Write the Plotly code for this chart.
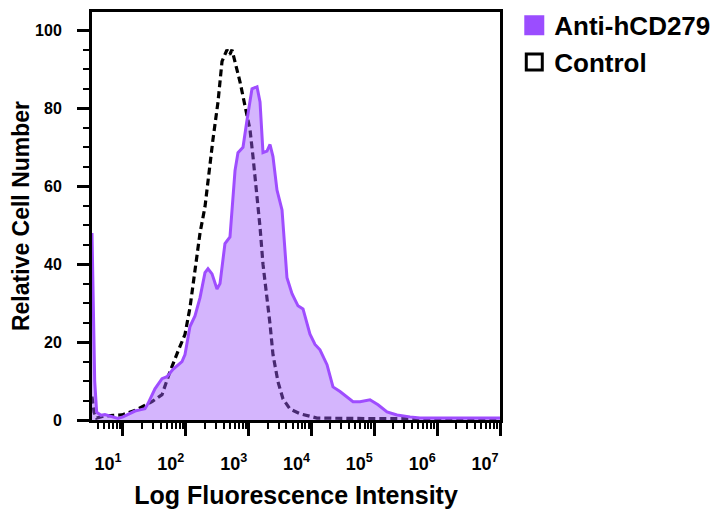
import numpy as np
import plotly.graph_objects as go

# ---------------- data ----------------
anti_log_x = [0.507, 0.527, 0.55, 0.581, 0.65, 0.713, 0.80, 0.92, 1.00, 1.08, 1.191, 1.27, 1.35,
              1.398, 1.509, 1.621, 1.70, 1.796, 1.939, 1.987, 2.066, 2.146, 2.226, 2.305, 2.353,
              2.417, 2.496, 2.544, 2.623, 2.703, 2.783, 2.83, 2.91, 2.974, 3.053, 3.133, 3.181,
              3.228, 3.292, 3.34, 3.387, 3.451, 3.531, 3.61, 3.69, 3.785, 3.865, 3.976, 4.056,
              4.135, 4.247, 4.342, 4.454, 4.661, 4.772, 4.931, 5.059, 5.202, 5.361, 5.568, 5.727,
              6.2, 7.0]
anti_y = [48, 30, 10, 2, 1.2, 1.4, 1.0, 0.4, 0.8, 1.4, 2.3, 2.6, 2.9,
          4.2, 8, 10.6, 11.1, 13, 15, 16.8, 24, 26.7, 31.4, 37.8, 38.8,
          37.5, 33.6, 35, 45.3, 47, 64, 68.6, 70, 77, 85, 85.5, 81.6,
          68.6, 69, 70.7, 67.6, 59, 53.9, 36.5, 32.4, 29.3, 28.5, 22, 19.4,
          18, 14.2, 8.5, 7.3, 4.7, 4.7, 5.2, 3.9, 2.1, 1.3, 0.8, 0.5,
          0.5, 0.5]

control_log_x = [0.507, 0.54, 0.58, 0.70, 0.85, 0.984, 1.2, 1.462, 1.621, 1.748, 1.875, 1.987,
                 2.066, 2.146, 2.226, 2.305, 2.353, 2.432, 2.512, 2.576, 2.655, 2.70, 2.735,
                 2.783, 2.862, 2.942, 3.021, 3.069, 3.133, 3.181, 3.228, 3.292, 3.34, 3.387,
                 3.467, 3.547, 3.658, 3.817, 4.088, 4.6, 5.4, 7.0]
control_y = [6, 2, 0.5, 1.0, 1.2, 1.3, 2.5, 4.7, 6.5, 12.4, 17.6, 22,
             28.8, 39, 48, 54.7, 61.7, 72, 81.6, 92, 95, 93.8, 95,
             92, 86.8, 80.6, 74.6, 67.6, 58, 49.5, 40, 31.4, 24.6, 16.8,
             9.8, 5.4, 2.8, 1.6, 0.5, 0.4, 0.3, 0.3]

x_tick_vals = [1e1, 1e2, 1e3, 1e4, 1e5, 1e6, 1e7]
x_tick_text = ["10<sup>1</sup>", "10<sup>2</sup>", "10<sup>3</sup>", "10<sup>4</sup>",
               "10<sup>5</sup>", "10<sup>6</sup>", "10<sup>7</sup>"]
y_tick_vals = [0, 20, 40, 60, 80, 100]

series_names = ["Anti-hCD279", "Control"]

# ---------------- figure ----------------
FONT = "Liberation Sans, Arial, Helvetica, sans-serif"
PURPLE_LINE = "#9f4dff"
PURPLE_FILL = "rgba(160, 90, 250, 0.45)"
PURPLE_SWATCH = "#9b4dff"

fig = go.Figure()

fig.add_trace(go.Scatter(
    x=10 ** np.array(control_log_x), y=control_y, mode="lines",
    line=dict(color="black", width=3.2, dash="7px,4px"),
    showlegend=False, name=series_names[1]))

fig.add_trace(go.Scatter(
    x=10 ** np.array(anti_log_x), y=anti_y, mode="lines",
    line=dict(color=PURPLE_LINE, width=3),
    fill="tozeroy", fillcolor=PURPLE_FILL,
    showlegend=False, name=series_names[0]))

# legend entries (square swatches)
fig.add_trace(go.Scatter(
    x=[None], y=[None], mode="markers", name=series_names[0],
    marker=dict(symbol="square", size=22, color=PURPLE_SWATCH,
                line=dict(width=4, color=PURPLE_SWATCH))))
fig.add_trace(go.Scatter(
    x=[None], y=[None], mode="markers", name=series_names[1],
    marker=dict(symbol="square-open", size=22, color="black", line=dict(width=3, color="black"))))

# the page body adds an 8px offset, so the figure is 8px smaller and margins compensate
fig.update_layout(
    width=713, height=503,
    margin=dict(l=84, r=221, t=4, b=91, autoexpand=False),
    paper_bgcolor="white", plot_bgcolor="white",
    font=dict(family=FONT, color="black", weight="bold"),
    showlegend=True,
    legend=dict(x=1.035, xanchor="left", y=1.025, yanchor="top",
                font=dict(size=26, family=FONT, color="black", weight="bold"),
                bgcolor="rgba(0,0,0,0)", itemsizing="trace", tracegroupgap=0),
)

fig.update_xaxes(
    type="log", range=[0.507, 7.0], automargin=True,
    tickvals=x_tick_vals, ticktext=x_tick_text,
    ticks="outside", ticklen=13, tickwidth=2.5, tickcolor="black",
    ticklabelshift=-15, ticklabelstandoff=12,
    tickfont=dict(size=18, family=FONT, color="black", weight="bold"),
    minor=dict(ticks="outside", ticklen=6, tickwidth=2, tickcolor="black", dtick="D1", showgrid=False),
    showline=True, linewidth=3, linecolor="black", mirror=True,
    showgrid=False, zeroline=False,
    title=dict(text="Log Fluorescence Intensity", standoff=14,
               font=dict(size=25, family=FONT, color="black", weight="bold")),
)

fig.update_yaxes(
    range=[0, 104.7], automargin=True,
    tickvals=y_tick_vals,
    ticks="outside", ticklen=12, tickwidth=2.5, tickcolor="black",
    ticklabelstandoff=12,
    tickfont=dict(size=16, family=FONT, color="black", weight="bold"),
    minor=dict(ticks="outside", ticklen=6, tickwidth=2, tickcolor="black", dtick=5, showgrid=False),
    showline=True, linewidth=3, linecolor="black", mirror=True,
    showgrid=False, zeroline=False,
    title=dict(text="Relative Cell Number", standoff=2,
               font=dict(size=23, family=FONT, color="black", weight="bold")),
)

fig.write_html("out.html")
